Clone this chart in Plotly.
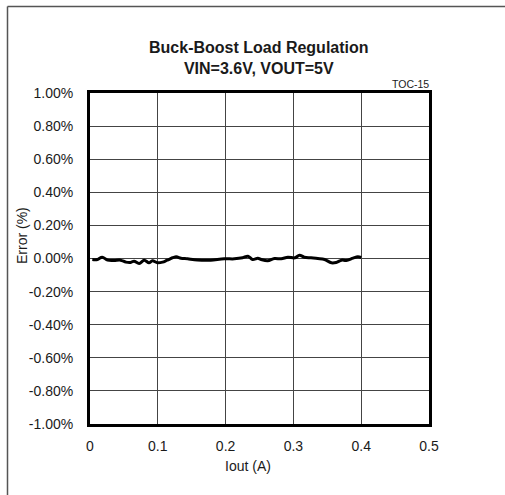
import plotly.graph_objects as go

iout_a = [0.0034, 0.011, 0.018, 0.026, 0.0355, 0.045, 0.053, 0.060, 0.065, 0.0725,
          0.080, 0.087, 0.092, 0.0996, 0.107, 0.114, 0.127, 0.134, 0.144, 0.154,
          0.166, 0.178, 0.198, 0.213, 0.225, 0.233, 0.240, 0.2475, 0.2525, 0.262,
          0.272, 0.282, 0.292, 0.302, 0.309, 0.316, 0.326, 0.336, 0.346, 0.356,
          0.363, 0.371, 0.378, 0.388, 0.395, 0.400]
error_pct = [-0.006, -0.006, 0.008, -0.010, -0.012, -0.010, -0.022, -0.024, -0.016, -0.030,
             -0.010, -0.026, -0.014, -0.026, -0.022, -0.010, 0.010, 0.002, -0.002, -0.008,
             -0.010, -0.010, -0.002, -0.002, 0.004, 0.014, -0.006, 0.002, -0.006, -0.014,
             0.000, -0.002, 0.008, 0.004, 0.020, 0.008, 0.004, 0.000, -0.006, -0.026,
             -0.024, -0.010, -0.012, 0.002, 0.010, 0.006]

y_ticks = [1.0, 0.8, 0.6, 0.4, 0.2, 0.0, -0.2, -0.4, -0.6, -0.8, -1.0]
y_tick_labels = ["1.00%", "0.80%", "0.60%", "0.40%", "0.20%", "0.00%",
                 "-0.20%", "-0.40%", "-0.60%", "-0.80%", "-1.00%"]
x_ticks = [0, 0.1, 0.2, 0.3, 0.4, 0.5]
x_tick_labels = ["0", "0.1", "0.2", "0.3", "0.4", "0.5"]

FONT = "Liberation Sans, Arial, sans-serif"
TXT = "#1a1a1a"

fig = go.Figure()
fig.add_trace(go.Scatter(x=iout_a, y=error_pct, mode="lines",
                         line=dict(color="black", width=3), line_shape="spline",
                         showlegend=False, hoverinfo="skip"))

L, R, T, B = 90, 76, 93, 71
W, H = 505, 495
pw, ph = W - L - R, H - T - B

def px(xp):
    return (xp - L) / pw

def py(yp):
    return (H - B - yp) / ph

fig.update_layout(
    width=W, height=H,
    margin=dict(l=L, r=R, t=T, b=B),
    paper_bgcolor="white", plot_bgcolor="white",
    font=dict(family=FONT, size=14, color=TXT),
    xaxis=dict(range=[0, 0.5], tickvals=x_ticks, ticktext=x_tick_labels,
               showgrid=True, gridcolor="#444", gridwidth=1,
               showline=True, linecolor="black", linewidth=3, mirror=True,
               zeroline=False, ticks="outside", ticklen=7, tickcolor="rgba(0,0,0,0)",
               fixedrange=True),
    yaxis=dict(range=[-1.0, 1.0], tickvals=y_ticks, ticktext=y_tick_labels,
               showgrid=True, gridcolor="#444", gridwidth=1,
               showline=True, linecolor="black", linewidth=3, mirror=True,
               zeroline=False, ticks="outside", ticklen=11, tickcolor="rgba(0,0,0,0)",
               fixedrange=True),
    shapes=[
        dict(type="line", xref="paper", yref="paper",
             x0=px(7.5), x1=px(510), y0=py(6.5), y1=py(6.5),
             line=dict(color="#555", width=1.5)),
        dict(type="line", xref="paper", yref="paper",
             x0=px(7.5), x1=px(7.5), y0=py(6.5), y1=py(510),
             line=dict(color="#555", width=1.5)),
    ],
    annotations=[
        dict(text="<b>Buck-Boost Load Regulation</b><br><b>VIN=3.6V, VOUT=5V</b>",
             xref="paper", yref="paper",
             x=px(259), y=py(58), showarrow=False, font=dict(size=16, color=TXT),
             xanchor="center", yanchor="middle", align="center"),
        dict(text="TOC-15", xref="paper", yref="paper",
             x=px(431), y=py(84), showarrow=False, font=dict(size=10.5, color=TXT),
             xanchor="right", yanchor="middle"),
        dict(text="Iout (A)", xref="paper", yref="paper",
             x=px(248), y=py(466), showarrow=False, font=dict(size=14, color=TXT),
             xanchor="center", yanchor="middle"),
        dict(text="Error (%)", xref="paper", yref="paper", textangle=-90,
             x=px(22), y=py(236), showarrow=False, font=dict(size=14, color=TXT),
             xanchor="center", yanchor="middle"),
    ],
)

fig.write_html("out.html", config={"displayModeBar": False, "staticPlot": True},
               post_script="document.body.style.margin='0';document.body.style.overflow='hidden';")
